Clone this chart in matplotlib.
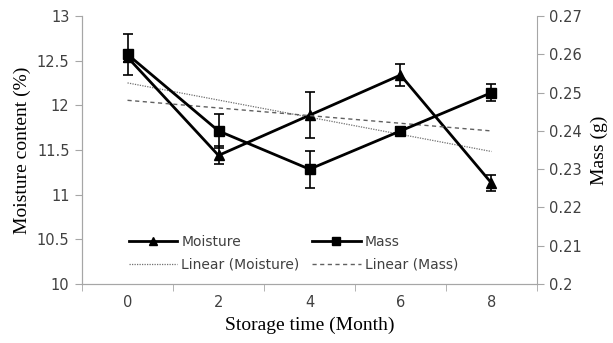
import numpy as np
import matplotlib.pyplot as plt
from matplotlib.ticker import FixedLocator, NullFormatter

months = ["0", "2", "4", "6", "8"]
moisture = [12.54, 11.44, 11.89, 12.34, 11.13]
moisture_err = [0.05, 0.10, 0.26, 0.12, 0.09]
mass = [0.260, 0.240, 0.230, 0.240, 0.250]
mass_err = [0.0053, 0.0045, 0.0048, 0.001, 0.0022]

x = np.arange(len(months))
tick_col = '#404040'
spine_col = '#a6a6a6'

fig = plt.figure(figsize=(6.13, 3.43), dpi=100)
ax = fig.add_axes([0.1338, 0.172, 0.876 - 0.1338, 0.953 - 0.172])
ax2 = ax.twinx()

h1 = ax.errorbar(x, moisture, yerr=moisture_err, color='black', lw=2, marker='^',
                 markersize=7.5, capsize=3.5, elinewidth=1.2, capthick=1.2,
                 label='Moisture', zorder=3)
h2 = ax2.errorbar(x, mass, yerr=mass_err, color='black', lw=2, marker='s',
                  markersize=6.5, capsize=3.5, elinewidth=1.2, capthick=1.2,
                  label='Mass', zorder=3)

# linear trend lines (Excel style)
k1, b1 = np.polyfit(x, moisture, 1)
k2, b2 = np.polyfit(x, mass, 1)
ends = np.array([x[0], x[-1]])
t1, = ax.plot(ends, k1 * ends + b1, color='#707070', lw=0.9, ls=(0, (1, 1)),
              label='Linear (Moisture)')
t2, = ax2.plot(ends, k2 * ends + b2, color='#606060', lw=1.0, ls=(0, (3, 2.5)),
               label='Linear (Mass)')

ax.set_xlim(-0.5, len(months) - 0.5)
ax.set_ylim(10, 13)
ax.set_yticks(np.arange(10, 13.01, 0.5))
ax.set_yticklabels(['10', '10.5', '11', '11.5', '12', '12.5', '13'])
ax2.set_ylim(0.2, 0.27)
ax2.set_yticks(np.arange(0.20, 0.2701, 0.01))
ax2.set_yticklabels(['0.2', '0.21', '0.22', '0.23', '0.24', '0.25', '0.26', '0.27'])

ax.set_xticks(x)
ax.set_xticklabels(months)
ax.xaxis.set_minor_locator(FixedLocator(np.arange(-0.5, len(months), 1.0)))
ax.xaxis.set_minor_formatter(NullFormatter())
ax.tick_params(axis='x', which='major', length=0, pad=8, labelsize=10.5, labelcolor=tick_col)
ax.tick_params(axis='x', which='minor', length=5, color=spine_col, direction='out')
ax.tick_params(axis='y', length=5, color=spine_col, labelsize=10.5, labelcolor=tick_col, pad=4)
ax2.tick_params(axis='y', length=5, color=spine_col, labelsize=10.5, labelcolor=tick_col, pad=4)

for a in (ax, ax2):
    a.spines['top'].set_visible(False)
    for s in ('left', 'right', 'bottom'):
        a.spines[s].set_color(spine_col)
ax.spines['right'].set_visible(False)

ax.set_xlabel('Storage time (Month)', family='Liberation Serif', fontsize=14, labelpad=5)
ax.set_ylabel('Moisture content (%)', family='Liberation Serif', fontsize=14, labelpad=4)
ax2.set_ylabel('Mass (g)', family='Liberation Serif', fontsize=14, labelpad=6)

ax2.legend([h1[0], t1, h2[0], t2], ['Moisture', 'Linear (Moisture)', 'Mass', 'Linear (Mass)'],
           ncol=2, frameon=False, loc='lower left', bbox_to_anchor=(0.075, 0.0),
           fontsize=10, handlelength=3.5, columnspacing=0.9, labelspacing=0.6,
           handletextpad=0.3, labelcolor=tick_col, markerscale=0.85)

fig.savefig('out.png', dpi=100)
